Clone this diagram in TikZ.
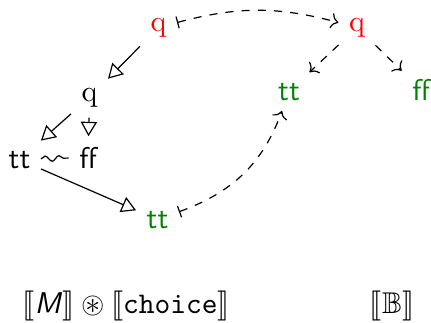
\documentclass[tikz,border=0pt]{standalone}
\usepackage{amssymb}
\usepackage{stmaryrd}
\usetikzlibrary{arrows.meta,decorations.pathmorphing}
\definecolor{dgreen}{RGB}{0,128,0}
\begin{document}
\begin{tikzpicture}[x=0.3333pt,y=-0.3333pt,
  solidarr/.style={-{Triangle[open,length=4.8pt,width=5.4pt]}},
  dasharr/.style={{Bar[width=4pt]}-{To}, dash pattern=on 2.7pt off 2.7pt},
  dashplain/.style={-{To}, dash pattern=on 2.7pt off 2.7pt},
  sflab/.style={font=\sffamily},
]
\useasboundingbox (0,0) rectangle (431,322);
% left part
\node[red] (qa) at (158.5,27.5) {q};
\node (qb) at (89.5,97.5) {q};
\node[sflab,anchor=base] (tta) at (19.5,168) {tt};
\node[sflab,anchor=base] (ffa) at (88,168) {ff};
\node[sflab,dgreen,anchor=base] (ttb) at (157.5,228) {tt};
% right part
\node[red] (qc) at (357,27.5) {q};
\node[sflab,dgreen,anchor=base] (ttc) at (289,100) {tt};
\node[sflab,dgreen,anchor=base] (ffc) at (421,100) {ff};
% labels
\node[anchor=base west,inner sep=0pt] (lab1) at (22,313) {$\llbracket \textsf{\textit{M}} \rrbracket \circledast \llbracket \texttt{choice} \rrbracket$};
\node[anchor=base,inner sep=0pt] (lab2) at (392,313) {$\llbracket \mathbb{B} \rrbracket$};
% solid arrows
\draw[solidarr] (qa) -- (qb);
\draw[solidarr] (qb) -- (tta);
\draw[solidarr] (qb) -- (ffa);
\draw[solidarr] (tta) -- (ttb);
\draw[decorate,decoration={snake,amplitude=0.9pt,segment length=4.6pt}] (tta) -- (ffa);
% dashed arrows
\draw[dasharr] (qa) to[out=15,in=165] (qc);
\draw[dashplain] (qc) -- (ttc);
\draw[dashplain] (qc) -- (ffc);
\draw[dasharr] (ttb) to[out=20,in=-110] (ttc);
\end{tikzpicture}
\end{document}
